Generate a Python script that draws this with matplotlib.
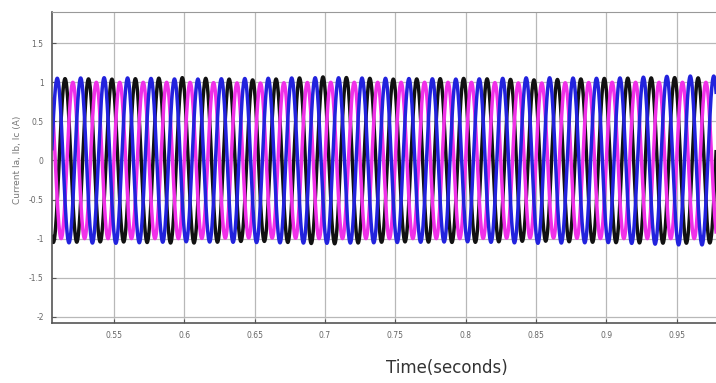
import numpy as np
import matplotlib
matplotlib.use("Agg")
import matplotlib.pyplot as plt

# ---- data ----
freq_hz = 60.0                       # ~3 cycles per 0.05 s
phase_deg = {"Ia": 0.0, "Ib": -120.0, "Ic": 120.0}
# peak amplitude envelope (per ~0.05 s segment)
seg_times = [0.50, 0.55, 0.60, 0.65, 0.70, 0.75, 0.80, 0.85, 0.90, 0.95, 1.00]
amp_Ia = [1.00, 1.00, 1.00, 0.99, 1.00, 1.00, 1.00, 0.99, 1.00, 1.00, 1.00]
amp_Ib = [1.05, 1.06, 1.04, 1.05, 1.06, 1.05, 1.04, 1.06, 1.05, 1.08, 1.08]
amp_Ic = [1.05, 1.04, 1.06, 1.03, 1.07, 1.04, 1.05, 1.03, 1.05, 1.06, 1.05]
# drawing order: black underneath, then magenta, blue on top
series_names = ["Ic", "Ia", "Ib"]
series_amps = [amp_Ic, amp_Ia, amp_Ib]
series_colors = ["#111111", "#f030e8", "#2222dd"]

x_ticks = [0.55, 0.6, 0.65, 0.7, 0.75, 0.8, 0.85, 0.9, 0.95]
x_ticklabels = ["0.55", "0.6", "0.65", "0.7", "0.75", "0.8", "0.85", "0.9", "0.95"]
y_ticks = [-2, -1.5, -1, -0.5, 0, 0.5, 1, 1.5]
y_ticklabels = ["-2", "-1.5", "-1", "-0.5", "0", "0.5", "1", "1.5"]

fig = plt.figure(figsize=(7.16, 3.83), dpi=100)
ax = fig.add_axes([52/716, 60/383, 1 - 52/716, 311/383])

t = np.linspace(0.5, 1.0, 8000)
for name, amps, col in zip(series_names, series_amps, series_colors):
    env = np.interp(t, seg_times, amps)
    y = env * np.sin(2*np.pi*freq_hz*t + np.deg2rad(phase_deg[name]))
    ax.plot(t, y, color=col, lw=2.5, solid_joinstyle="round")

ax.set_xlim(0.506, 0.978)
ax.set_ylim(-2.08, 1.9)
ax.set_xticks(x_ticks)
ax.set_xticklabels(x_ticklabels)
ax.set_yticks(y_ticks)
ax.set_yticklabels(y_ticklabels)
ax.grid(True, color="#b8b8b8", lw=0.9)
ax.set_axisbelow(True)
ax.tick_params(direction="in", length=3, width=0.8, colors="#555555",
               labelsize=5.5, labelcolor="#666666", pad=6)
for s in ["left", "bottom"]:
    ax.spines[s].set_color("#555555")
    ax.spines[s].set_linewidth(1.2)
ax.spines["top"].set_color("#999999")
ax.spines["right"].set_visible(False)

fig.text(18/716, 1 - 160/383, "Current Ia, Ib, Ic (A)", rotation=90,
         ha="center", va="center", fontsize=6.5, color="#777777")
fig.text(447/716, 1 - 368/383, "Time(seconds)", ha="center", va="center",
         fontsize=12, color="#333333")

fig.savefig("out.png", dpi=100)
